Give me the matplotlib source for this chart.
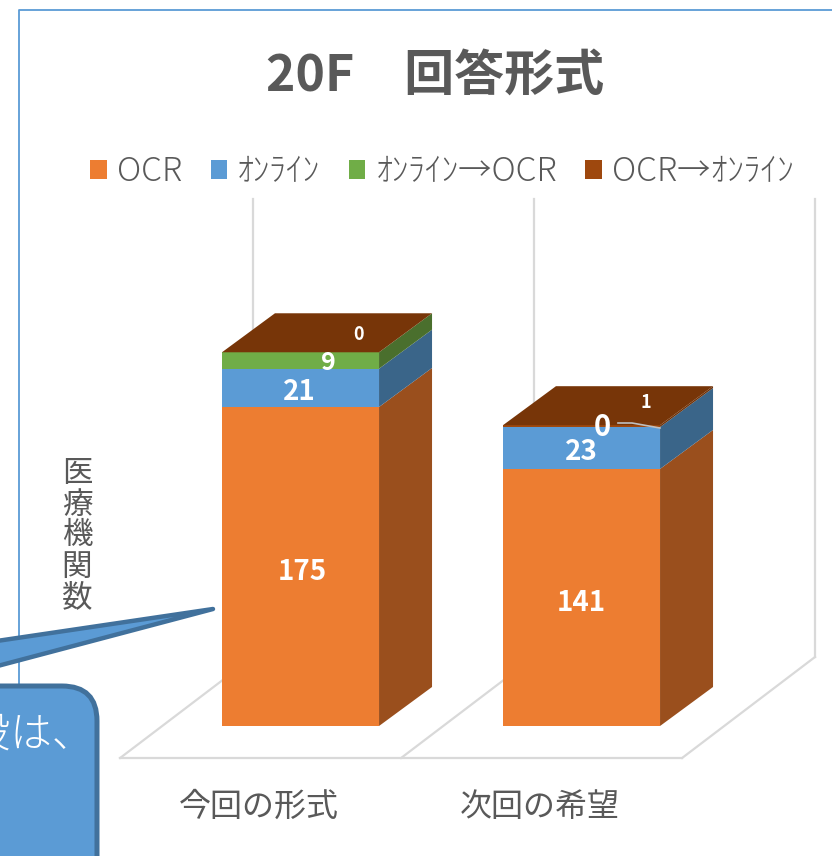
import matplotlib
matplotlib.use('Agg')
import matplotlib.pyplot as plt
from matplotlib.patches import FancyBboxPatch, Polygon
from matplotlib.transforms import Affine2D
import numpy as np

plt.rcParams['font.family'] = ['Noto Sans CJK JP', 'DejaVu Sans']

# Data
categories = ['今回の形式', '次回の希望']
series_names = ['OCR', 'ｵﾝﾗｲﾝ', 'ｵﾝﾗｲﾝ→OCR', 'OCR→ｵﾝﾗｲﾝ']
series_values = [
    [175, 141],
    [21, 23],
    [9, 0],
    [0, 1],
]
title = '20F　回答形式'
y_title = '医\n療\n機\n関\n数'
callout_text = '施設は、'

# Style
front_colors = ['#ED7D31', '#5B9BD5', '#70AD47', '#9E480E']
side_colors = ['#9A4F1D', '#3A6589', '#4A6F2D', '#6E3209']
top_color = '#773508'
grid_color = '#D9D9D9'
text_color = '#595959'
W, H = 832, 856
bar_width = 0.559
depth_x, depth_y = 0.1886, 21.4
floor_dx, floor_dy = 0.473, 55.4
floor_y = -17.55
wall_top = 289

# offsets of each label from the middle of its segment, in points
label_style = {
    (0, 0): (1, -4, 20), (1, 0): (-1, -3, 20), (2, 0): (20, -2, 18), (3, 0): (42, 13, 13),
    (0, 1): (0, -4, 20), (1, 1): (0, -3, 20), (2, 1): (15, 0, 21), (3, 1): (46, 17, 13),
}

fig = plt.figure(figsize=(W / 100, H / 100), dpi=100)
ax = fig.add_axes([0, 0, 1, 1])
ax.set_xlim((0 - 300.5) / 281, (W - 300.5) / 281)
ax.set_ylim((726 - H) / 1.823, 726 / 1.823)
ax.axis('off')
px = Affine2D().scale(1, -1).translate(0, H)

# chart frame, pixel positions
ax.plot([19, 19, W + 10], [700, 10, 10], color='#5B9BD5', lw=1.3, transform=px, zorder=1)

# back walls and floor
x_pos = np.arange(len(categories))
for edge in np.arange(len(categories) + 1) - 0.642:
    ax.plot([edge + floor_dx, edge + floor_dx], [floor_y + floor_dy, wall_top],
            color=grid_color, lw=1.6, zorder=1)
    ax.plot([edge, edge + floor_dx], [floor_y, floor_y + floor_dy], color=grid_color, lw=1.6, zorder=1)
ax.plot([-0.642, 1.358], [floor_y, floor_y], color=grid_color, lw=1.6, zorder=1)

# stacked bars with a fake 3D side and top
bottom = np.zeros(len(categories))
for s, (name, vals) in enumerate(zip(series_names, series_values)):
    vals = np.array(vals, dtype=float)
    ax.bar(x_pos, vals, bar_width, bottom=bottom, color=front_colors[s], label=name, zorder=3)
    for i in x_pos:
        r = i + bar_width / 2
        b, t = bottom[i], bottom[i] + vals[i]
        ax.add_patch(Polygon([(r, b), (r + depth_x, b + depth_y), (r + depth_x, t + depth_y), (r, t)],
                             closed=True, fc=side_colors[s], ec='none', zorder=2.5))
        dx, dy, size = label_style[(s, i)]
        ax.annotate(str(int(vals[i])), (i, (b + t) / 2), xytext=(dx, dy), textcoords='offset points',
                    ha='center', va='center', color='white', fontsize=size, fontweight='bold', zorder=6)
    bottom += vals
for i in x_pos:
    l, r, t = i - bar_width / 2, i + bar_width / 2, bottom[i]
    ax.add_patch(Polygon([(l, t), (r, t), (r + depth_x, t + depth_y), (l + depth_x, t + depth_y)],
                         closed=True, fc=top_color, ec='none', zorder=4))

# leader line of the second 0 label
ax.plot([618, 632, 660], [423, 423, 428], color='#BFBFBF', lw=1.2, transform=px, zorder=5)

# texts
ax.text(435, 76, title, transform=px, ha='center', va='center', fontsize=36, fontweight='bold', color=text_color)
ax.text(77, 536, y_title, transform=px, ha='center', va='center', fontsize=22, color=text_color, linespacing=1.0)
for i, cat in enumerate(categories):
    ax.text(i - 0.147, -44.5, cat, ha='center', va='center', fontsize=23, color=text_color)

leg = ax.legend(loc='center', bbox_to_anchor=(442, H - 172), bbox_transform=Affine2D(), ncol=4, frameon=False,
                prop={'size': 24, 'weight': 'light'}, labelcolor=text_color, handlelength=0.5, handleheight=0.5,
                handletextpad=0.3, columnspacing=0.85)

# callout over the chart
ax.add_patch(Polygon([(-10, 642), (213, 609), (-10, 668)], closed=True, fc='#5B9BD5', ec='#41719C',
                     lw=3.2, joinstyle='round', transform=px, zorder=7))
ax.add_patch(FancyBboxPatch((-60, 686), 157, 260, boxstyle='round,pad=0,rounding_size=35', fc='#5B9BD5',
                            ec='#41719C', lw=3.6, transform=px, zorder=7))
ax.text(94, 736, callout_text, transform=px, ha='right', va='center', fontsize=30, fontweight='light', color='white', zorder=8)

fig.savefig('out.png', dpi=100)
